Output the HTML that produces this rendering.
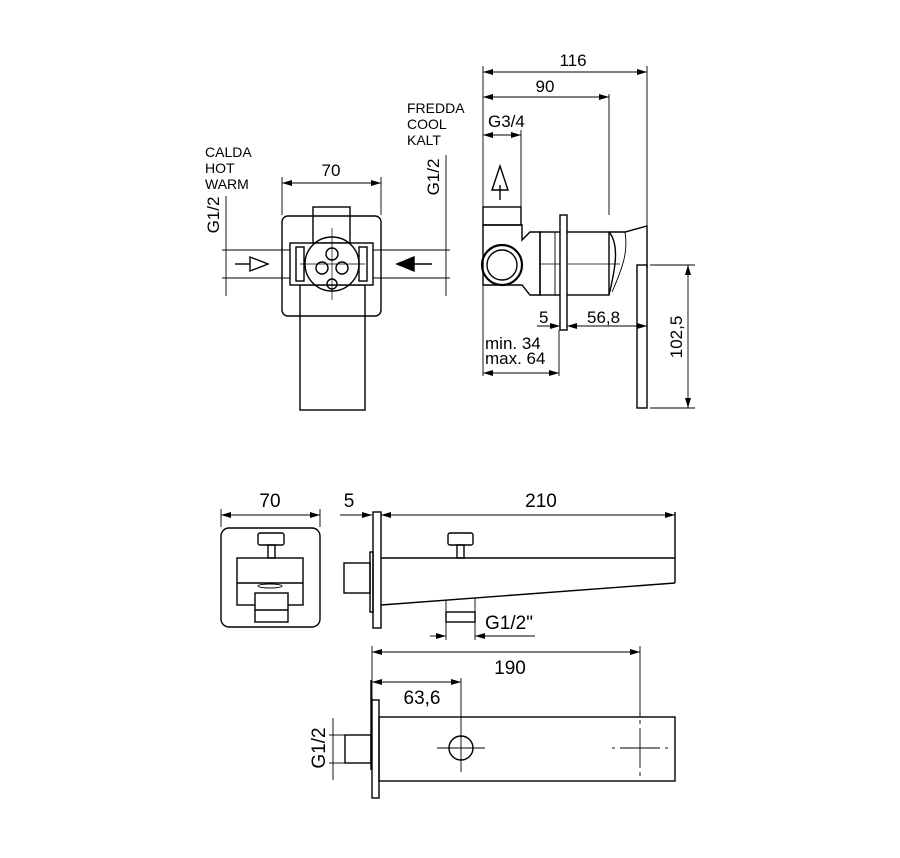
<!DOCTYPE html>
<html><head><meta charset="utf-8"><style>
html,body{margin:0;padding:0;background:#fff}
svg{display:block}
text{font-family:"Liberation Sans",Arial,sans-serif;fill:#000}
</style></head><body>
<svg width="900" height="858" viewBox="0 0 900 858" xmlns="http://www.w3.org/2000/svg">
<defs>
<marker id="a" viewBox="0 0 10 6" refX="10" refY="3" markerWidth="10" markerHeight="6" orient="auto-start-reverse" markerUnits="userSpaceOnUse"><path d="M0,0L10,3L0,6z" fill="#000"/></marker>
</defs>
<g fill="none" stroke="#000" stroke-width="1.4">
<!-- TOP LEFT FRONT VIEW -->
<line x1="282" y1="177" x2="282" y2="215" stroke-width="0.9"/>
<line x1="381" y1="177" x2="381" y2="215" stroke-width="0.9"/>
<line x1="282" y1="183" x2="381" y2="183" stroke-width="0.9" marker-start="url(#a)" marker-end="url(#a)"/>
<rect x="282" y="216" width="99" height="100" rx="6"/>
<rect x="300" y="285" width="65" height="125"/>
<rect x="313" y="207" width="37" height="36"/>
<rect x="290" y="243" width="83" height="42" fill="#fff"/>
<rect x="296" y="247" width="8" height="34"/>
<rect x="359" y="247" width="8" height="34"/>
<circle cx="332" cy="264" r="27"/>
<circle cx="332" cy="254" r="6"/>
<circle cx="322" cy="268" r="6"/>
<circle cx="342" cy="268" r="6"/>
<circle cx="332" cy="284" r="5"/>
<line x1="332" y1="228" x2="332" y2="300" stroke-width="0.7"/>
<line x1="300" y1="264" x2="365" y2="264" stroke-width="0.7"/>
<!-- G1/2 left -->
<line x1="222" y1="250" x2="290" y2="250" stroke-width="0.9"/>
<line x1="222" y1="278" x2="290" y2="278" stroke-width="0.9"/>
<line x1="226" y1="196" x2="226" y2="296" stroke-width="0.9"/>
<line x1="235" y1="264" x2="250" y2="264"/>
<path d="M250,257L268,264L250,271z"/>
<!-- G1/2 right -->
<line x1="373" y1="250" x2="450" y2="250" stroke-width="0.9"/>
<line x1="373" y1="278" x2="450" y2="278" stroke-width="0.9"/>
<line x1="446" y1="155" x2="446" y2="296" stroke-width="0.9"/>
<line x1="414" y1="264" x2="432" y2="264"/>
<path d="M414,257L397,264L414,271z" fill="#000"/>

<!-- TOP RIGHT SIDE VIEW -->
<line x1="483" y1="66" x2="483" y2="376" stroke-width="0.9"/>
<line x1="647" y1="66" x2="647" y2="268" stroke-width="0.9"/>
<line x1="609" y1="94" x2="609" y2="215" stroke-width="0.9"/>
<line x1="483" y1="72" x2="647" y2="72" stroke-width="0.9" marker-start="url(#a)" marker-end="url(#a)"/>
<line x1="483" y1="97" x2="609" y2="97" stroke-width="0.9" marker-start="url(#a)" marker-end="url(#a)"/>
<line x1="483" y1="135" x2="521" y2="135" stroke-width="0.9" marker-start="url(#a)" marker-end="url(#a)"/>
<line x1="521" y1="130" x2="521" y2="207" stroke-width="0.9"/>
<rect x="483" y="207" width="38" height="18"/>
<path d="M483,225H522V240L530,232H540V295H530L522,285H483z"/>
<circle cx="502" cy="265" r="20" stroke-width="2.2"/>
<circle cx="502" cy="265" r="15"/>
<line x1="500" y1="200" x2="500" y2="185"/>
<path d="M492,190L500,166L508,190z"/>
<rect x="540" y="232" width="69" height="63"/>
<line x1="555" y1="232" x2="555" y2="295" stroke-width="0.9"/>
<line x1="540" y1="264" x2="620" y2="264" stroke-width="0.7"/>
<rect x="560" y="215" width="7" height="115" fill="#fff"/>
<path d="M609,232L625,232L647,226V268"/>
<path d="M609,232C620,245 615,270 609,295" />
<path d="M625,232C628,250 624,265 612,292" stroke-width="0.9"/>
<rect x="637" y="265" width="10" height="143"/>
<line x1="650" y1="265" x2="695" y2="265" stroke-width="0.9"/>
<line x1="650" y1="408" x2="695" y2="408" stroke-width="0.9"/>
<line x1="688" y1="265" x2="688" y2="408" stroke-width="0.9" marker-start="url(#a)" marker-end="url(#a)"/>
<line x1="537" y1="326" x2="560" y2="326" stroke-width="0.9" marker-end="url(#a)"/>
<line x1="567" y1="326" x2="647" y2="326" stroke-width="0.9" marker-start="url(#a)" marker-end="url(#a)"/>
<line x1="559" y1="330" x2="559" y2="376" stroke-width="0.9"/>
<line x1="483" y1="373" x2="559" y2="373" stroke-width="0.9" marker-start="url(#a)" marker-end="url(#a)"/>

<!-- BOTTOM FRONT -->
<line x1="221" y1="509" x2="221" y2="527" stroke-width="0.9"/>
<line x1="320" y1="509" x2="320" y2="527" stroke-width="0.9"/>
<line x1="221" y1="515" x2="320" y2="515" stroke-width="0.9" marker-start="url(#a)" marker-end="url(#a)"/>
<rect x="221" y="528" width="99" height="99" rx="8"/>
<rect x="258" y="533" width="26" height="12" rx="2"/>
<rect x="268" y="545" width="7" height="13"/>
<rect x="237" y="558" width="66" height="47"/>
<line x1="237" y1="583" x2="303" y2="583"/>
<ellipse cx="270" cy="586" rx="12" ry="2" stroke-width="0.9"/>
<rect x="255" y="593" width="33" height="29" fill="#fff"/>
<line x1="255" y1="610" x2="288" y2="610"/>

<!-- BOTTOM SIDE -->
<line x1="340" y1="515" x2="372" y2="515" stroke-width="0.9" marker-end="url(#a)"/>
<line x1="381" y1="515" x2="675" y2="515" stroke-width="0.9" marker-start="url(#a)" marker-end="url(#a)"/>
<rect x="373" y="512" width="8" height="116"/>
<rect x="370" y="552" width="3" height="60"/>
<rect x="344" y="563" width="26" height="30"/>
<line x1="381" y1="558" x2="675" y2="558"/>
<line x1="675" y1="512" x2="675" y2="583"/>
<line x1="381" y1="605" x2="675" y2="583"/>
<rect x="448" y="533" width="25" height="12" rx="2"/>
<rect x="457" y="545" width="7" height="13"/>
<line x1="446" y1="600" x2="446" y2="640" stroke-width="0.9"/>
<line x1="475" y1="598" x2="475" y2="640" stroke-width="0.9"/>
<rect x="446" y="612" width="29" height="10"/>
<line x1="430" y1="636" x2="446" y2="636" stroke-width="0.9" marker-end="url(#a)"/>
<line x1="475" y1="636" x2="535" y2="636" stroke-width="0.9" marker-start="url(#a)"/>

<!-- BOTTOM PLAN -->
<line x1="372" y1="646" x2="372" y2="700" stroke-width="0.9"/>
<line x1="640" y1="646" x2="640" y2="717" stroke-width="0.9"/>
<line x1="372" y1="652" x2="640" y2="652" stroke-width="0.9" marker-start="url(#a)" marker-end="url(#a)"/>
<line x1="372" y1="682" x2="461" y2="682" stroke-width="0.9" marker-start="url(#a)" marker-end="url(#a)"/>
<line x1="461" y1="678" x2="461" y2="772" stroke-width="0.9"/>
<rect x="372" y="700" width="7" height="98"/>
<line x1="371" y1="680" x2="371" y2="770"/>
<rect x="379" y="717" width="296" height="64"/>
<circle cx="461" cy="748" r="12"/>
<line x1="437" y1="748" x2="485" y2="748" stroke-width="0.9"/>
<line x1="640" y1="720" x2="640" y2="724" stroke-width="0.9"/>
<line x1="640" y1="728" x2="640" y2="768" stroke-width="0.9"/>
<line x1="640" y1="772" x2="640" y2="776" stroke-width="0.9"/>
<line x1="612" y1="748" x2="615" y2="748" stroke-width="0.9"/>
<line x1="620" y1="748" x2="660" y2="748" stroke-width="0.9"/>
<line x1="665" y1="748" x2="668" y2="748" stroke-width="0.9"/>
<rect x="345" y="735" width="26" height="28"/>
<line x1="329" y1="735" x2="345" y2="735" stroke-width="0.9"/>
<line x1="329" y1="763" x2="345" y2="763" stroke-width="0.9"/>
<line x1="333" y1="718" x2="333" y2="780" stroke-width="0.9"/>
</g>
<g font-size="14">
<text x="205" y="157">CALDA</text>
<text x="205" y="173">HOT</text>
<text x="205" y="189">WARM</text>
<text x="407" y="113">FREDDA</text>
<text x="407" y="129">COOL</text>
<text x="407" y="145">KALT</text>
</g>
<g font-size="17">
<text x="331" y="176" text-anchor="middle">70</text>
<text transform="translate(219,215) rotate(-90)" text-anchor="middle">G1/2</text>
<text transform="translate(439,177) rotate(-90)" text-anchor="middle">G1/2</text>
<text x="573" y="66" text-anchor="middle">116</text>
<text x="545" y="92" text-anchor="middle">90</text>
<text x="488" y="127">G3/4</text>
<text x="539" y="323">5</text>
<text x="587" y="323">56,8</text>
<text x="485" y="349">min. 34</text>
<text x="485" y="364">max. 64</text>
<text transform="translate(682,337) rotate(-90)" text-anchor="middle">102,5</text>
<text x="270" y="507" font-size="19" text-anchor="middle">70</text>
<text x="349" y="507" font-size="19" text-anchor="middle">5</text>
<text x="541" y="507" font-size="19" text-anchor="middle">210</text>
<text x="485" y="629" font-size="19">G1/2"</text>
<text x="510" y="674" font-size="19" text-anchor="middle">190</text>
<text x="422" y="704" font-size="19" text-anchor="middle">63,6</text>
<text transform="translate(325,748) rotate(-90)" font-size="19" text-anchor="middle">G1/2</text>
</g>
</svg>
</body></html>
